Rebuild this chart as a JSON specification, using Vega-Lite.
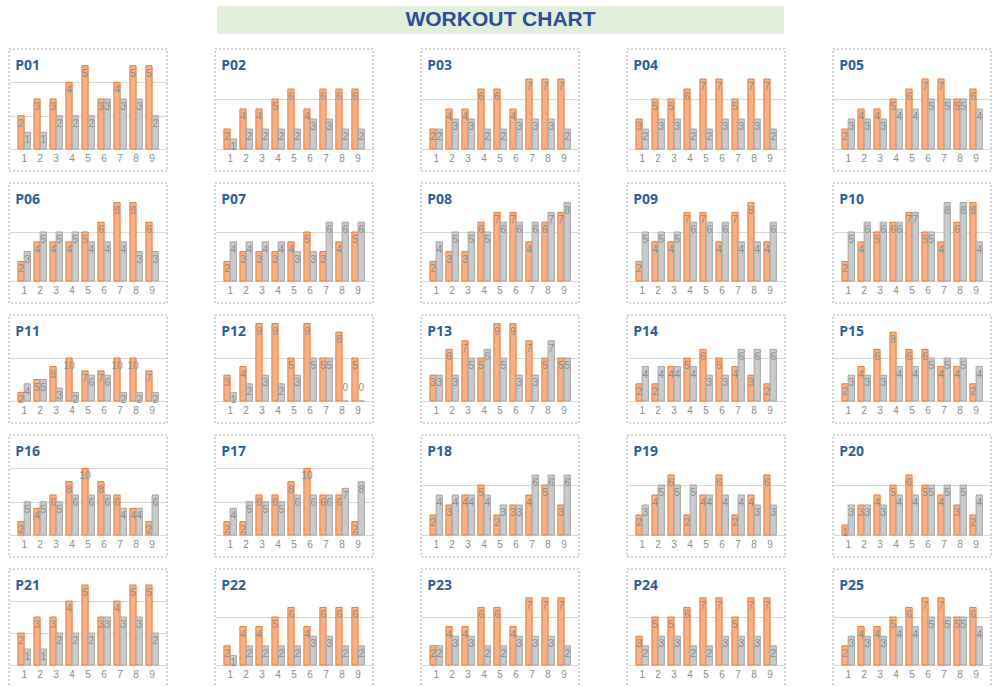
{
"$schema":"https://vega.github.io/schema/vega-lite/v6.json",
"padding":{"left":8,"top":6,"right":0,"bottom":0},
"background":"white",
"datasets":{"bars":[
{"p":"P01","d":1,"s":"a","v":2},{"p":"P01","d":2,"s":"a","v":3},{"p":"P01","d":3,"s":"a","v":3},{"p":"P01","d":4,"s":"a","v":4},{"p":"P01","d":5,"s":"a","v":5},{"p":"P01","d":6,"s":"a","v":3},{"p":"P01","d":7,"s":"a","v":4},{"p":"P01","d":8,"s":"a","v":5},{"p":"P01","d":9,"s":"a","v":5},
{"p":"P01","d":1,"s":"b","v":1},{"p":"P01","d":2,"s":"b","v":1},{"p":"P01","d":3,"s":"b","v":2},{"p":"P01","d":4,"s":"b","v":2},{"p":"P01","d":5,"s":"b","v":2},{"p":"P01","d":6,"s":"b","v":3},{"p":"P01","d":7,"s":"b","v":3},{"p":"P01","d":8,"s":"b","v":3},{"p":"P01","d":9,"s":"b","v":2},
{"p":"P02","d":1,"s":"a","v":2},{"p":"P02","d":2,"s":"a","v":4},{"p":"P02","d":3,"s":"a","v":4},{"p":"P02","d":4,"s":"a","v":5},{"p":"P02","d":5,"s":"a","v":6},{"p":"P02","d":6,"s":"a","v":4},{"p":"P02","d":7,"s":"a","v":6},{"p":"P02","d":8,"s":"a","v":6},{"p":"P02","d":9,"s":"a","v":6},
{"p":"P02","d":1,"s":"b","v":1},{"p":"P02","d":2,"s":"b","v":2},{"p":"P02","d":3,"s":"b","v":2},{"p":"P02","d":4,"s":"b","v":2},{"p":"P02","d":5,"s":"b","v":2},{"p":"P02","d":6,"s":"b","v":3},{"p":"P02","d":7,"s":"b","v":3},{"p":"P02","d":8,"s":"b","v":2},{"p":"P02","d":9,"s":"b","v":2},
{"p":"P03","d":1,"s":"a","v":2},{"p":"P03","d":2,"s":"a","v":4},{"p":"P03","d":3,"s":"a","v":4},{"p":"P03","d":4,"s":"a","v":6},{"p":"P03","d":5,"s":"a","v":6},{"p":"P03","d":6,"s":"a","v":4},{"p":"P03","d":7,"s":"a","v":7},{"p":"P03","d":8,"s":"a","v":7},{"p":"P03","d":9,"s":"a","v":7},
{"p":"P03","d":1,"s":"b","v":2},{"p":"P03","d":2,"s":"b","v":3},{"p":"P03","d":3,"s":"b","v":3},{"p":"P03","d":4,"s":"b","v":2},{"p":"P03","d":5,"s":"b","v":2},{"p":"P03","d":6,"s":"b","v":3},{"p":"P03","d":7,"s":"b","v":3},{"p":"P03","d":8,"s":"b","v":3},{"p":"P03","d":9,"s":"b","v":2},
{"p":"P04","d":1,"s":"a","v":3},{"p":"P04","d":2,"s":"a","v":5},{"p":"P04","d":3,"s":"a","v":5},{"p":"P04","d":4,"s":"a","v":6},{"p":"P04","d":5,"s":"a","v":7},{"p":"P04","d":6,"s":"a","v":7},{"p":"P04","d":7,"s":"a","v":5},{"p":"P04","d":8,"s":"a","v":7},{"p":"P04","d":9,"s":"a","v":7},
{"p":"P04","d":1,"s":"b","v":2},{"p":"P04","d":2,"s":"b","v":3},{"p":"P04","d":3,"s":"b","v":3},{"p":"P04","d":4,"s":"b","v":2},{"p":"P04","d":5,"s":"b","v":2},{"p":"P04","d":6,"s":"b","v":3},{"p":"P04","d":7,"s":"b","v":3},{"p":"P04","d":8,"s":"b","v":3},{"p":"P04","d":9,"s":"b","v":2},
{"p":"P05","d":1,"s":"a","v":2},{"p":"P05","d":2,"s":"a","v":4},{"p":"P05","d":3,"s":"a","v":4},{"p":"P05","d":4,"s":"a","v":5},{"p":"P05","d":5,"s":"a","v":6},{"p":"P05","d":6,"s":"a","v":7},{"p":"P05","d":7,"s":"a","v":7},{"p":"P05","d":8,"s":"a","v":5},{"p":"P05","d":9,"s":"a","v":6},
{"p":"P05","d":1,"s":"b","v":3},{"p":"P05","d":2,"s":"b","v":3},{"p":"P05","d":3,"s":"b","v":3},{"p":"P05","d":4,"s":"b","v":4},{"p":"P05","d":5,"s":"b","v":4},{"p":"P05","d":6,"s":"b","v":5},{"p":"P05","d":7,"s":"b","v":5},{"p":"P05","d":8,"s":"b","v":5},{"p":"P05","d":9,"s":"b","v":4},
{"p":"P06","d":1,"s":"a","v":2},{"p":"P06","d":2,"s":"a","v":4},{"p":"P06","d":3,"s":"a","v":4},{"p":"P06","d":4,"s":"a","v":4},{"p":"P06","d":5,"s":"a","v":5},{"p":"P06","d":6,"s":"a","v":6},{"p":"P06","d":7,"s":"a","v":8},{"p":"P06","d":8,"s":"a","v":8},{"p":"P06","d":9,"s":"a","v":6},
{"p":"P06","d":1,"s":"b","v":3},{"p":"P06","d":2,"s":"b","v":5},{"p":"P06","d":3,"s":"b","v":5},{"p":"P06","d":4,"s":"b","v":5},{"p":"P06","d":5,"s":"b","v":4},{"p":"P06","d":6,"s":"b","v":4},{"p":"P06","d":7,"s":"b","v":4},{"p":"P06","d":8,"s":"b","v":3},{"p":"P06","d":9,"s":"b","v":3},
{"p":"P07","d":1,"s":"a","v":2},{"p":"P07","d":2,"s":"a","v":3},{"p":"P07","d":3,"s":"a","v":3},{"p":"P07","d":4,"s":"a","v":3},{"p":"P07","d":5,"s":"a","v":4},{"p":"P07","d":6,"s":"a","v":5},{"p":"P07","d":7,"s":"a","v":3},{"p":"P07","d":8,"s":"a","v":4},{"p":"P07","d":9,"s":"a","v":5},
{"p":"P07","d":1,"s":"b","v":4},{"p":"P07","d":2,"s":"b","v":4},{"p":"P07","d":3,"s":"b","v":4},{"p":"P07","d":4,"s":"b","v":4},{"p":"P07","d":5,"s":"b","v":3},{"p":"P07","d":6,"s":"b","v":3},{"p":"P07","d":7,"s":"b","v":6},{"p":"P07","d":8,"s":"b","v":6},{"p":"P07","d":9,"s":"b","v":6},
{"p":"P08","d":1,"s":"a","v":2},{"p":"P08","d":2,"s":"a","v":3},{"p":"P08","d":3,"s":"a","v":3},{"p":"P08","d":4,"s":"a","v":6},{"p":"P08","d":5,"s":"a","v":7},{"p":"P08","d":6,"s":"a","v":7},{"p":"P08","d":7,"s":"a","v":4},{"p":"P08","d":8,"s":"a","v":6},{"p":"P08","d":9,"s":"a","v":7},
{"p":"P08","d":1,"s":"b","v":4},{"p":"P08","d":2,"s":"b","v":5},{"p":"P08","d":3,"s":"b","v":5},{"p":"P08","d":4,"s":"b","v":5},{"p":"P08","d":5,"s":"b","v":6},{"p":"P08","d":6,"s":"b","v":6},{"p":"P08","d":7,"s":"b","v":6},{"p":"P08","d":8,"s":"b","v":7},{"p":"P08","d":9,"s":"b","v":8},
{"p":"P09","d":1,"s":"a","v":2},{"p":"P09","d":2,"s":"a","v":4},{"p":"P09","d":3,"s":"a","v":4},{"p":"P09","d":4,"s":"a","v":7},{"p":"P09","d":5,"s":"a","v":7},{"p":"P09","d":6,"s":"a","v":4},{"p":"P09","d":7,"s":"a","v":7},{"p":"P09","d":8,"s":"a","v":8},{"p":"P09","d":9,"s":"a","v":4},
{"p":"P09","d":1,"s":"b","v":5},{"p":"P09","d":2,"s":"b","v":5},{"p":"P09","d":3,"s":"b","v":5},{"p":"P09","d":4,"s":"b","v":6},{"p":"P09","d":5,"s":"b","v":6},{"p":"P09","d":6,"s":"b","v":6},{"p":"P09","d":7,"s":"b","v":4},{"p":"P09","d":8,"s":"b","v":4},{"p":"P09","d":9,"s":"b","v":6},
{"p":"P10","d":1,"s":"a","v":2},{"p":"P10","d":2,"s":"a","v":4},{"p":"P10","d":3,"s":"a","v":5},{"p":"P10","d":4,"s":"a","v":6},{"p":"P10","d":5,"s":"a","v":7},{"p":"P10","d":6,"s":"a","v":5},{"p":"P10","d":7,"s":"a","v":4},{"p":"P10","d":8,"s":"a","v":6},{"p":"P10","d":9,"s":"a","v":8},
{"p":"P10","d":1,"s":"b","v":5},{"p":"P10","d":2,"s":"b","v":6},{"p":"P10","d":3,"s":"b","v":6},{"p":"P10","d":4,"s":"b","v":6},{"p":"P10","d":5,"s":"b","v":7},{"p":"P10","d":6,"s":"b","v":5},{"p":"P10","d":7,"s":"b","v":8},{"p":"P10","d":8,"s":"b","v":8},{"p":"P10","d":9,"s":"b","v":4},
{"p":"P11","d":1,"s":"a","v":2},{"p":"P11","d":2,"s":"a","v":5},{"p":"P11","d":3,"s":"a","v":8},{"p":"P11","d":4,"s":"a","v":10},{"p":"P11","d":5,"s":"a","v":7},{"p":"P11","d":6,"s":"a","v":7},{"p":"P11","d":7,"s":"a","v":10},{"p":"P11","d":8,"s":"a","v":10},{"p":"P11","d":9,"s":"a","v":7},
{"p":"P11","d":1,"s":"b","v":4},{"p":"P11","d":2,"s":"b","v":5},{"p":"P11","d":3,"s":"b","v":3},{"p":"P11","d":4,"s":"b","v":2},{"p":"P11","d":5,"s":"b","v":6},{"p":"P11","d":6,"s":"b","v":6},{"p":"P11","d":7,"s":"b","v":2},{"p":"P11","d":8,"s":"b","v":2},{"p":"P11","d":9,"s":"b","v":2},
{"p":"P12","d":1,"s":"a","v":3},{"p":"P12","d":2,"s":"a","v":4},{"p":"P12","d":3,"s":"a","v":9},{"p":"P12","d":4,"s":"a","v":9},{"p":"P12","d":5,"s":"a","v":5},{"p":"P12","d":6,"s":"a","v":9},{"p":"P12","d":7,"s":"a","v":5},{"p":"P12","d":8,"s":"a","v":8},{"p":"P12","d":9,"s":"a","v":5},
{"p":"P12","d":1,"s":"b","v":1},{"p":"P12","d":2,"s":"b","v":2},{"p":"P12","d":3,"s":"b","v":3},{"p":"P12","d":4,"s":"b","v":2},{"p":"P12","d":5,"s":"b","v":3},{"p":"P12","d":6,"s":"b","v":5},{"p":"P12","d":7,"s":"b","v":5},{"p":"P12","d":8,"s":"b","v":0},{"p":"P12","d":9,"s":"b","v":0},
{"p":"P13","d":1,"s":"a","v":3},{"p":"P13","d":2,"s":"a","v":6},{"p":"P13","d":3,"s":"a","v":7},{"p":"P13","d":4,"s":"a","v":5},{"p":"P13","d":5,"s":"a","v":9},{"p":"P13","d":6,"s":"a","v":9},{"p":"P13","d":7,"s":"a","v":7},{"p":"P13","d":8,"s":"a","v":5},{"p":"P13","d":9,"s":"a","v":5},
{"p":"P13","d":1,"s":"b","v":3},{"p":"P13","d":2,"s":"b","v":3},{"p":"P13","d":3,"s":"b","v":5},{"p":"P13","d":4,"s":"b","v":6},{"p":"P13","d":5,"s":"b","v":5},{"p":"P13","d":6,"s":"b","v":3},{"p":"P13","d":7,"s":"b","v":3},{"p":"P13","d":8,"s":"b","v":7},{"p":"P13","d":9,"s":"b","v":5},
{"p":"P14","d":1,"s":"a","v":2},{"p":"P14","d":2,"s":"a","v":2},{"p":"P14","d":3,"s":"a","v":4},{"p":"P14","d":4,"s":"a","v":5},{"p":"P14","d":5,"s":"a","v":6},{"p":"P14","d":6,"s":"a","v":5},{"p":"P14","d":7,"s":"a","v":4},{"p":"P14","d":8,"s":"a","v":3},{"p":"P14","d":9,"s":"a","v":2},
{"p":"P14","d":1,"s":"b","v":4},{"p":"P14","d":2,"s":"b","v":4},{"p":"P14","d":3,"s":"b","v":4},{"p":"P14","d":4,"s":"b","v":4},{"p":"P14","d":5,"s":"b","v":3},{"p":"P14","d":6,"s":"b","v":3},{"p":"P14","d":7,"s":"b","v":6},{"p":"P14","d":8,"s":"b","v":6},{"p":"P14","d":9,"s":"b","v":6},
{"p":"P15","d":1,"s":"a","v":2},{"p":"P15","d":2,"s":"a","v":4},{"p":"P15","d":3,"s":"a","v":6},{"p":"P15","d":4,"s":"a","v":8},{"p":"P15","d":5,"s":"a","v":6},{"p":"P15","d":6,"s":"a","v":6},{"p":"P15","d":7,"s":"a","v":4},{"p":"P15","d":8,"s":"a","v":4},{"p":"P15","d":9,"s":"a","v":2},
{"p":"P15","d":1,"s":"b","v":3},{"p":"P15","d":2,"s":"b","v":3},{"p":"P15","d":3,"s":"b","v":3},{"p":"P15","d":4,"s":"b","v":4},{"p":"P15","d":5,"s":"b","v":4},{"p":"P15","d":6,"s":"b","v":5},{"p":"P15","d":7,"s":"b","v":5},{"p":"P15","d":8,"s":"b","v":5},{"p":"P15","d":9,"s":"b","v":4},
{"p":"P16","d":1,"s":"a","v":2},{"p":"P16","d":2,"s":"a","v":4},{"p":"P16","d":3,"s":"a","v":6},{"p":"P16","d":4,"s":"a","v":8},{"p":"P16","d":5,"s":"a","v":10},{"p":"P16","d":6,"s":"a","v":8},{"p":"P16","d":7,"s":"a","v":6},{"p":"P16","d":8,"s":"a","v":4},{"p":"P16","d":9,"s":"a","v":2},
{"p":"P16","d":1,"s":"b","v":5},{"p":"P16","d":2,"s":"b","v":5},{"p":"P16","d":3,"s":"b","v":5},{"p":"P16","d":4,"s":"b","v":6},{"p":"P16","d":5,"s":"b","v":6},{"p":"P16","d":6,"s":"b","v":6},{"p":"P16","d":7,"s":"b","v":4},{"p":"P16","d":8,"s":"b","v":4},{"p":"P16","d":9,"s":"b","v":6},
{"p":"P17","d":1,"s":"a","v":2},{"p":"P17","d":2,"s":"a","v":2},{"p":"P17","d":3,"s":"a","v":6},{"p":"P17","d":4,"s":"a","v":6},{"p":"P17","d":5,"s":"a","v":8},{"p":"P17","d":6,"s":"a","v":10},{"p":"P17","d":7,"s":"a","v":6},{"p":"P17","d":8,"s":"a","v":6},{"p":"P17","d":9,"s":"a","v":2},
{"p":"P17","d":1,"s":"b","v":4},{"p":"P17","d":2,"s":"b","v":5},{"p":"P17","d":3,"s":"b","v":5},{"p":"P17","d":4,"s":"b","v":5},{"p":"P17","d":5,"s":"b","v":6},{"p":"P17","d":6,"s":"b","v":6},{"p":"P17","d":7,"s":"b","v":6},{"p":"P17","d":8,"s":"b","v":7},{"p":"P17","d":9,"s":"b","v":8},
{"p":"P18","d":1,"s":"a","v":2},{"p":"P18","d":2,"s":"a","v":3},{"p":"P18","d":3,"s":"a","v":4},{"p":"P18","d":4,"s":"a","v":5},{"p":"P18","d":5,"s":"a","v":2},{"p":"P18","d":6,"s":"a","v":3},{"p":"P18","d":7,"s":"a","v":4},{"p":"P18","d":8,"s":"a","v":5},{"p":"P18","d":9,"s":"a","v":3},
{"p":"P18","d":1,"s":"b","v":4},{"p":"P18","d":2,"s":"b","v":4},{"p":"P18","d":3,"s":"b","v":4},{"p":"P18","d":4,"s":"b","v":4},{"p":"P18","d":5,"s":"b","v":3},{"p":"P18","d":6,"s":"b","v":3},{"p":"P18","d":7,"s":"b","v":6},{"p":"P18","d":8,"s":"b","v":6},{"p":"P18","d":9,"s":"b","v":6},
{"p":"P19","d":1,"s":"a","v":2},{"p":"P19","d":2,"s":"a","v":4},{"p":"P19","d":3,"s":"a","v":6},{"p":"P19","d":4,"s":"a","v":2},{"p":"P19","d":5,"s":"a","v":4},{"p":"P19","d":6,"s":"a","v":6},{"p":"P19","d":7,"s":"a","v":2},{"p":"P19","d":8,"s":"a","v":4},{"p":"P19","d":9,"s":"a","v":6},
{"p":"P19","d":1,"s":"b","v":3},{"p":"P19","d":2,"s":"b","v":5},{"p":"P19","d":3,"s":"b","v":5},{"p":"P19","d":4,"s":"b","v":5},{"p":"P19","d":5,"s":"b","v":4},{"p":"P19","d":6,"s":"b","v":4},{"p":"P19","d":7,"s":"b","v":4},{"p":"P19","d":8,"s":"b","v":3},{"p":"P19","d":9,"s":"b","v":3},
{"p":"P20","d":1,"s":"a","v":1},{"p":"P20","d":2,"s":"a","v":3},{"p":"P20","d":3,"s":"a","v":4},{"p":"P20","d":4,"s":"a","v":5},{"p":"P20","d":5,"s":"a","v":6},{"p":"P20","d":6,"s":"a","v":5},{"p":"P20","d":7,"s":"a","v":4},{"p":"P20","d":8,"s":"a","v":3},{"p":"P20","d":9,"s":"a","v":2},
{"p":"P20","d":1,"s":"b","v":3},{"p":"P20","d":2,"s":"b","v":3},{"p":"P20","d":3,"s":"b","v":3},{"p":"P20","d":4,"s":"b","v":4},{"p":"P20","d":5,"s":"b","v":4},{"p":"P20","d":6,"s":"b","v":5},{"p":"P20","d":7,"s":"b","v":5},{"p":"P20","d":8,"s":"b","v":5},{"p":"P20","d":9,"s":"b","v":4},
{"p":"P21","d":1,"s":"a","v":2},{"p":"P21","d":2,"s":"a","v":3},{"p":"P21","d":3,"s":"a","v":3},{"p":"P21","d":4,"s":"a","v":4},{"p":"P21","d":5,"s":"a","v":5},{"p":"P21","d":6,"s":"a","v":3},{"p":"P21","d":7,"s":"a","v":4},{"p":"P21","d":8,"s":"a","v":5},{"p":"P21","d":9,"s":"a","v":5},
{"p":"P21","d":1,"s":"b","v":1},{"p":"P21","d":2,"s":"b","v":1},{"p":"P21","d":3,"s":"b","v":2},{"p":"P21","d":4,"s":"b","v":2},{"p":"P21","d":5,"s":"b","v":2},{"p":"P21","d":6,"s":"b","v":3},{"p":"P21","d":7,"s":"b","v":3},{"p":"P21","d":8,"s":"b","v":3},{"p":"P21","d":9,"s":"b","v":2},
{"p":"P22","d":1,"s":"a","v":2},{"p":"P22","d":2,"s":"a","v":4},{"p":"P22","d":3,"s":"a","v":4},{"p":"P22","d":4,"s":"a","v":5},{"p":"P22","d":5,"s":"a","v":6},{"p":"P22","d":6,"s":"a","v":4},{"p":"P22","d":7,"s":"a","v":6},{"p":"P22","d":8,"s":"a","v":6},{"p":"P22","d":9,"s":"a","v":6},
{"p":"P22","d":1,"s":"b","v":1},{"p":"P22","d":2,"s":"b","v":2},{"p":"P22","d":3,"s":"b","v":2},{"p":"P22","d":4,"s":"b","v":2},{"p":"P22","d":5,"s":"b","v":2},{"p":"P22","d":6,"s":"b","v":3},{"p":"P22","d":7,"s":"b","v":3},{"p":"P22","d":8,"s":"b","v":2},{"p":"P22","d":9,"s":"b","v":2},
{"p":"P23","d":1,"s":"a","v":2},{"p":"P23","d":2,"s":"a","v":4},{"p":"P23","d":3,"s":"a","v":4},{"p":"P23","d":4,"s":"a","v":6},{"p":"P23","d":5,"s":"a","v":6},{"p":"P23","d":6,"s":"a","v":4},{"p":"P23","d":7,"s":"a","v":7},{"p":"P23","d":8,"s":"a","v":7},{"p":"P23","d":9,"s":"a","v":7},
{"p":"P23","d":1,"s":"b","v":2},{"p":"P23","d":2,"s":"b","v":3},{"p":"P23","d":3,"s":"b","v":3},{"p":"P23","d":4,"s":"b","v":2},{"p":"P23","d":5,"s":"b","v":2},{"p":"P23","d":6,"s":"b","v":3},{"p":"P23","d":7,"s":"b","v":3},{"p":"P23","d":8,"s":"b","v":3},{"p":"P23","d":9,"s":"b","v":2},
{"p":"P24","d":1,"s":"a","v":3},{"p":"P24","d":2,"s":"a","v":5},{"p":"P24","d":3,"s":"a","v":5},{"p":"P24","d":4,"s":"a","v":6},{"p":"P24","d":5,"s":"a","v":7},{"p":"P24","d":6,"s":"a","v":7},{"p":"P24","d":7,"s":"a","v":5},{"p":"P24","d":8,"s":"a","v":7},{"p":"P24","d":9,"s":"a","v":7},
{"p":"P24","d":1,"s":"b","v":2},{"p":"P24","d":2,"s":"b","v":3},{"p":"P24","d":3,"s":"b","v":3},{"p":"P24","d":4,"s":"b","v":2},{"p":"P24","d":5,"s":"b","v":2},{"p":"P24","d":6,"s":"b","v":3},{"p":"P24","d":7,"s":"b","v":3},{"p":"P24","d":8,"s":"b","v":3},{"p":"P24","d":9,"s":"b","v":2},
{"p":"P25","d":1,"s":"a","v":2},{"p":"P25","d":2,"s":"a","v":4},{"p":"P25","d":3,"s":"a","v":4},{"p":"P25","d":4,"s":"a","v":5},{"p":"P25","d":5,"s":"a","v":6},{"p":"P25","d":6,"s":"a","v":7},{"p":"P25","d":7,"s":"a","v":7},{"p":"P25","d":8,"s":"a","v":5},{"p":"P25","d":9,"s":"a","v":6},
{"p":"P25","d":1,"s":"b","v":3},{"p":"P25","d":2,"s":"b","v":3},{"p":"P25","d":3,"s":"b","v":3},{"p":"P25","d":4,"s":"b","v":4},{"p":"P25","d":5,"s":"b","v":4},{"p":"P25","d":6,"s":"b","v":5},{"p":"P25","d":7,"s":"b","v":5},{"p":"P25","d":8,"s":"b","v":5},{"p":"P25","d":9,"s":"b","v":4}
]},
"data":{"name":"bars"},
"center":true,
"spacing":14,
"vconcat":[
{"width":567,"height":28,"view":{"fill":"#E2EFDA","stroke":null},"data":{"values":[{"t":"WORKOUT CHART"}]},"mark":{"type":"text","font":"Liberation Sans","fontSize":21,"fontWeight":"bold","fill":"#2E4E9B","align":"center","baseline":"middle"},"encoding":{"text":{"field":"t"}}},
{"spacing":10,"vconcat":[
{"spacing":46,"hconcat":[
{"width":158,"height":122,"title":"P01","transform":[{"filter":"datum.p==='P01'"}],"encoding":{"x":{"field":"d","type":"ordinal","title":null},"xOffset":{"field":"s","type":"nominal","scale":{"paddingInner":0}},"y":{"field":"v","type":"quantitative","title":null,"scale":{"domain":[-1.32,6],"nice":false,"zero":false},"axis":{"values":[0,2,4]}}},"layer":[{"mark":"bar","encoding":{"color":{"field":"s","type":"nominal","scale":{"domain":["a","b"],"range":["#F8AF85","#CACACA"]},"legend":null},"stroke":{"field":"s","type":"nominal","scale":{"domain":["a","b"],"range":["#ED7D31","#A6A6A6"]},"legend":null}}},{"mark":{"type":"text","baseline":"top","dy":3},"encoding":{"text":{"field":"v"}}}]},
{"width":158,"height":122,"title":"P02","transform":[{"filter":"datum.p==='P02'"}],"encoding":{"x":{"field":"d","type":"ordinal","title":null},"xOffset":{"field":"s","type":"nominal","scale":{"paddingInner":0}},"y":{"field":"v","type":"quantitative","title":null,"scale":{"domain":[-2.2,10],"nice":false,"zero":false},"axis":{"values":[0,5]}}},"layer":[{"mark":"bar","encoding":{"color":{"field":"s","type":"nominal","scale":{"domain":["a","b"],"range":["#F8AF85","#CACACA"]},"legend":null},"stroke":{"field":"s","type":"nominal","scale":{"domain":["a","b"],"range":["#ED7D31","#A6A6A6"]},"legend":null}}},{"mark":{"type":"text","baseline":"top","dy":3},"encoding":{"text":{"field":"v"}}}]},
{"width":158,"height":122,"title":"P03","transform":[{"filter":"datum.p==='P03'"}],"encoding":{"x":{"field":"d","type":"ordinal","title":null},"xOffset":{"field":"s","type":"nominal","scale":{"paddingInner":0}},"y":{"field":"v","type":"quantitative","title":null,"scale":{"domain":[-2.2,10],"nice":false,"zero":false},"axis":{"values":[0,5]}}},"layer":[{"mark":"bar","encoding":{"color":{"field":"s","type":"nominal","scale":{"domain":["a","b"],"range":["#F8AF85","#CACACA"]},"legend":null},"stroke":{"field":"s","type":"nominal","scale":{"domain":["a","b"],"range":["#ED7D31","#A6A6A6"]},"legend":null}}},{"mark":{"type":"text","baseline":"top","dy":3},"encoding":{"text":{"field":"v"}}}]},
{"width":158,"height":122,"title":"P04","transform":[{"filter":"datum.p==='P04'"}],"encoding":{"x":{"field":"d","type":"ordinal","title":null},"xOffset":{"field":"s","type":"nominal","scale":{"paddingInner":0}},"y":{"field":"v","type":"quantitative","title":null,"scale":{"domain":[-2.2,10],"nice":false,"zero":false},"axis":{"values":[0,5]}}},"layer":[{"mark":"bar","encoding":{"color":{"field":"s","type":"nominal","scale":{"domain":["a","b"],"range":["#F8AF85","#CACACA"]},"legend":null},"stroke":{"field":"s","type":"nominal","scale":{"domain":["a","b"],"range":["#ED7D31","#A6A6A6"]},"legend":null}}},{"mark":{"type":"text","baseline":"top","dy":3},"encoding":{"text":{"field":"v"}}}]},
{"width":158,"height":122,"title":"P05","transform":[{"filter":"datum.p==='P05'"}],"encoding":{"x":{"field":"d","type":"ordinal","title":null},"xOffset":{"field":"s","type":"nominal","scale":{"paddingInner":0}},"y":{"field":"v","type":"quantitative","title":null,"scale":{"domain":[-2.2,10],"nice":false,"zero":false},"axis":{"values":[0,5]}}},"layer":[{"mark":"bar","encoding":{"color":{"field":"s","type":"nominal","scale":{"domain":["a","b"],"range":["#F8AF85","#CACACA"]},"legend":null},"stroke":{"field":"s","type":"nominal","scale":{"domain":["a","b"],"range":["#ED7D31","#A6A6A6"]},"legend":null}}},{"mark":{"type":"text","baseline":"top","dy":3},"encoding":{"text":{"field":"v"}}}]}
]},
{"spacing":46,"hconcat":[
{"width":158,"height":120,"title":"P06","transform":[{"filter":"datum.p==='P06'"}],"encoding":{"x":{"field":"d","type":"ordinal","title":null},"xOffset":{"field":"s","type":"nominal","scale":{"paddingInner":0}},"y":{"field":"v","type":"quantitative","title":null,"scale":{"domain":[-2.245,10],"nice":false,"zero":false},"axis":{"values":[0,5]}}},"layer":[{"mark":"bar","encoding":{"color":{"field":"s","type":"nominal","scale":{"domain":["a","b"],"range":["#F8AF85","#CACACA"]},"legend":null},"stroke":{"field":"s","type":"nominal","scale":{"domain":["a","b"],"range":["#ED7D31","#A6A6A6"]},"legend":null}}},{"mark":{"type":"text","baseline":"top","dy":3},"encoding":{"text":{"field":"v"}}}]},
{"width":158,"height":120,"title":"P07","transform":[{"filter":"datum.p==='P07'"}],"encoding":{"x":{"field":"d","type":"ordinal","title":null},"xOffset":{"field":"s","type":"nominal","scale":{"paddingInner":0}},"y":{"field":"v","type":"quantitative","title":null,"scale":{"domain":[-2.245,10],"nice":false,"zero":false},"axis":{"values":[0,5]}}},"layer":[{"mark":"bar","encoding":{"color":{"field":"s","type":"nominal","scale":{"domain":["a","b"],"range":["#F8AF85","#CACACA"]},"legend":null},"stroke":{"field":"s","type":"nominal","scale":{"domain":["a","b"],"range":["#ED7D31","#A6A6A6"]},"legend":null}}},{"mark":{"type":"text","baseline":"top","dy":3},"encoding":{"text":{"field":"v"}}}]},
{"width":158,"height":120,"title":"P08","transform":[{"filter":"datum.p==='P08'"}],"encoding":{"x":{"field":"d","type":"ordinal","title":null},"xOffset":{"field":"s","type":"nominal","scale":{"paddingInner":0}},"y":{"field":"v","type":"quantitative","title":null,"scale":{"domain":[-2.245,10],"nice":false,"zero":false},"axis":{"values":[0,5]}}},"layer":[{"mark":"bar","encoding":{"color":{"field":"s","type":"nominal","scale":{"domain":["a","b"],"range":["#F8AF85","#CACACA"]},"legend":null},"stroke":{"field":"s","type":"nominal","scale":{"domain":["a","b"],"range":["#ED7D31","#A6A6A6"]},"legend":null}}},{"mark":{"type":"text","baseline":"top","dy":3},"encoding":{"text":{"field":"v"}}}]},
{"width":158,"height":120,"title":"P09","transform":[{"filter":"datum.p==='P09'"}],"encoding":{"x":{"field":"d","type":"ordinal","title":null},"xOffset":{"field":"s","type":"nominal","scale":{"paddingInner":0}},"y":{"field":"v","type":"quantitative","title":null,"scale":{"domain":[-2.245,10],"nice":false,"zero":false},"axis":{"values":[0,5]}}},"layer":[{"mark":"bar","encoding":{"color":{"field":"s","type":"nominal","scale":{"domain":["a","b"],"range":["#F8AF85","#CACACA"]},"legend":null},"stroke":{"field":"s","type":"nominal","scale":{"domain":["a","b"],"range":["#ED7D31","#A6A6A6"]},"legend":null}}},{"mark":{"type":"text","baseline":"top","dy":3},"encoding":{"text":{"field":"v"}}}]},
{"width":158,"height":120,"title":"P10","transform":[{"filter":"datum.p==='P10'"}],"encoding":{"x":{"field":"d","type":"ordinal","title":null},"xOffset":{"field":"s","type":"nominal","scale":{"paddingInner":0}},"y":{"field":"v","type":"quantitative","title":null,"scale":{"domain":[-2.245,10],"nice":false,"zero":false},"axis":{"values":[0,5]}}},"layer":[{"mark":"bar","encoding":{"color":{"field":"s","type":"nominal","scale":{"domain":["a","b"],"range":["#F8AF85","#CACACA"]},"legend":null},"stroke":{"field":"s","type":"nominal","scale":{"domain":["a","b"],"range":["#ED7D31","#A6A6A6"]},"legend":null}}},{"mark":{"type":"text","baseline":"top","dy":3},"encoding":{"text":{"field":"v"}}}]}
]},
{"spacing":46,"hconcat":[
{"width":158,"height":108,"title":"P11","transform":[{"filter":"datum.p==='P11'"}],"encoding":{"x":{"field":"d","type":"ordinal","title":null},"xOffset":{"field":"s","type":"nominal","scale":{"paddingInner":0}},"y":{"field":"v","type":"quantitative","title":null,"scale":{"domain":[-5.116,20],"nice":false,"zero":false},"axis":{"values":[0,10]}}},"layer":[{"mark":"bar","encoding":{"color":{"field":"s","type":"nominal","scale":{"domain":["a","b"],"range":["#F8AF85","#CACACA"]},"legend":null},"stroke":{"field":"s","type":"nominal","scale":{"domain":["a","b"],"range":["#ED7D31","#A6A6A6"]},"legend":null}}},{"mark":{"type":"text","baseline":"top","dy":3},"encoding":{"text":{"field":"v"}}}]},
{"width":158,"height":108,"title":"P12","transform":[{"filter":"datum.p==='P12'"}],"encoding":{"x":{"field":"d","type":"ordinal","title":null},"xOffset":{"field":"s","type":"nominal","scale":{"paddingInner":0}},"y":{"field":"v","type":"quantitative","title":null,"scale":{"domain":[-2.558,10],"nice":false,"zero":false},"axis":{"values":[0,5]}}},"layer":[{"mark":"bar","encoding":{"color":{"field":"s","type":"nominal","scale":{"domain":["a","b"],"range":["#F8AF85","#CACACA"]},"legend":null},"stroke":{"field":"s","type":"nominal","scale":{"domain":["a","b"],"range":["#ED7D31","#A6A6A6"]},"legend":null}}},{"transform":[{"filter":"datum.v>0"}],"mark":{"type":"text","baseline":"top","dy":3},"encoding":{"text":{"field":"v"}}},{"transform":[{"filter":"datum.v==0"}],"mark":{"type":"text","baseline":"bottom","dy":-8},"encoding":{"text":{"field":"v"}}}]},
{"width":158,"height":108,"title":"P13","transform":[{"filter":"datum.p==='P13'"}],"encoding":{"x":{"field":"d","type":"ordinal","title":null},"xOffset":{"field":"s","type":"nominal","scale":{"paddingInner":0}},"y":{"field":"v","type":"quantitative","title":null,"scale":{"domain":[-2.558,10],"nice":false,"zero":false},"axis":{"values":[0,5]}}},"layer":[{"mark":"bar","encoding":{"color":{"field":"s","type":"nominal","scale":{"domain":["a","b"],"range":["#F8AF85","#CACACA"]},"legend":null},"stroke":{"field":"s","type":"nominal","scale":{"domain":["a","b"],"range":["#ED7D31","#A6A6A6"]},"legend":null}}},{"mark":{"type":"text","baseline":"top","dy":3},"encoding":{"text":{"field":"v"}}}]},
{"width":158,"height":108,"title":"P14","transform":[{"filter":"datum.p==='P14'"}],"encoding":{"x":{"field":"d","type":"ordinal","title":null},"xOffset":{"field":"s","type":"nominal","scale":{"paddingInner":0}},"y":{"field":"v","type":"quantitative","title":null,"scale":{"domain":[-2.558,10],"nice":false,"zero":false},"axis":{"values":[0,5]}}},"layer":[{"mark":"bar","encoding":{"color":{"field":"s","type":"nominal","scale":{"domain":["a","b"],"range":["#F8AF85","#CACACA"]},"legend":null},"stroke":{"field":"s","type":"nominal","scale":{"domain":["a","b"],"range":["#ED7D31","#A6A6A6"]},"legend":null}}},{"mark":{"type":"text","baseline":"top","dy":3},"encoding":{"text":{"field":"v"}}}]},
{"width":158,"height":108,"title":"P15","transform":[{"filter":"datum.p==='P15'"}],"encoding":{"x":{"field":"d","type":"ordinal","title":null},"xOffset":{"field":"s","type":"nominal","scale":{"paddingInner":0}},"y":{"field":"v","type":"quantitative","title":null,"scale":{"domain":[-2.558,10],"nice":false,"zero":false},"axis":{"values":[0,5]}}},"layer":[{"mark":"bar","encoding":{"color":{"field":"s","type":"nominal","scale":{"domain":["a","b"],"range":["#F8AF85","#CACACA"]},"legend":null},"stroke":{"field":"s","type":"nominal","scale":{"domain":["a","b"],"range":["#ED7D31","#A6A6A6"]},"legend":null}}},{"mark":{"type":"text","baseline":"top","dy":3},"encoding":{"text":{"field":"v"}}}]}
]},
{"spacing":46,"hconcat":[
{"width":158,"height":122,"title":"P16","transform":[{"filter":"datum.p==='P16'"}],"encoding":{"x":{"field":"d","type":"ordinal","title":null},"xOffset":{"field":"s","type":"nominal","scale":{"paddingInner":0}},"y":{"field":"v","type":"quantitative","title":null,"scale":{"domain":[-3.3,15],"nice":false,"zero":false},"axis":{"values":[0,5,10]}}},"layer":[{"mark":"bar","encoding":{"color":{"field":"s","type":"nominal","scale":{"domain":["a","b"],"range":["#F8AF85","#CACACA"]},"legend":null},"stroke":{"field":"s","type":"nominal","scale":{"domain":["a","b"],"range":["#ED7D31","#A6A6A6"]},"legend":null}}},{"mark":{"type":"text","baseline":"top","dy":3},"encoding":{"text":{"field":"v"}}}]},
{"width":158,"height":122,"title":"P17","transform":[{"filter":"datum.p==='P17'"}],"encoding":{"x":{"field":"d","type":"ordinal","title":null},"xOffset":{"field":"s","type":"nominal","scale":{"paddingInner":0}},"y":{"field":"v","type":"quantitative","title":null,"scale":{"domain":[-3.3,15],"nice":false,"zero":false},"axis":{"values":[0,5,10]}}},"layer":[{"mark":"bar","encoding":{"color":{"field":"s","type":"nominal","scale":{"domain":["a","b"],"range":["#F8AF85","#CACACA"]},"legend":null},"stroke":{"field":"s","type":"nominal","scale":{"domain":["a","b"],"range":["#ED7D31","#A6A6A6"]},"legend":null}}},{"mark":{"type":"text","baseline":"top","dy":3},"encoding":{"text":{"field":"v"}}}]},
{"width":158,"height":122,"title":"P18","transform":[{"filter":"datum.p==='P18'"}],"encoding":{"x":{"field":"d","type":"ordinal","title":null},"xOffset":{"field":"s","type":"nominal","scale":{"paddingInner":0}},"y":{"field":"v","type":"quantitative","title":null,"scale":{"domain":[-2.2,10],"nice":false,"zero":false},"axis":{"values":[0,5]}}},"layer":[{"mark":"bar","encoding":{"color":{"field":"s","type":"nominal","scale":{"domain":["a","b"],"range":["#F8AF85","#CACACA"]},"legend":null},"stroke":{"field":"s","type":"nominal","scale":{"domain":["a","b"],"range":["#ED7D31","#A6A6A6"]},"legend":null}}},{"mark":{"type":"text","baseline":"top","dy":3},"encoding":{"text":{"field":"v"}}}]},
{"width":158,"height":122,"title":"P19","transform":[{"filter":"datum.p==='P19'"}],"encoding":{"x":{"field":"d","type":"ordinal","title":null},"xOffset":{"field":"s","type":"nominal","scale":{"paddingInner":0}},"y":{"field":"v","type":"quantitative","title":null,"scale":{"domain":[-2.2,10],"nice":false,"zero":false},"axis":{"values":[0,5]}}},"layer":[{"mark":"bar","encoding":{"color":{"field":"s","type":"nominal","scale":{"domain":["a","b"],"range":["#F8AF85","#CACACA"]},"legend":null},"stroke":{"field":"s","type":"nominal","scale":{"domain":["a","b"],"range":["#ED7D31","#A6A6A6"]},"legend":null}}},{"mark":{"type":"text","baseline":"top","dy":3},"encoding":{"text":{"field":"v"}}}]},
{"width":158,"height":122,"title":"P20","transform":[{"filter":"datum.p==='P20'"}],"encoding":{"x":{"field":"d","type":"ordinal","title":null},"xOffset":{"field":"s","type":"nominal","scale":{"paddingInner":0}},"y":{"field":"v","type":"quantitative","title":null,"scale":{"domain":[-2.2,10],"nice":false,"zero":false},"axis":{"values":[0,5]}}},"layer":[{"mark":"bar","encoding":{"color":{"field":"s","type":"nominal","scale":{"domain":["a","b"],"range":["#F8AF85","#CACACA"]},"legend":null},"stroke":{"field":"s","type":"nominal","scale":{"domain":["a","b"],"range":["#ED7D31","#A6A6A6"]},"legend":null}}},{"mark":{"type":"text","baseline":"top","dy":3},"encoding":{"text":{"field":"v"}}}]}
]},
{"spacing":46,"hconcat":[
{"width":158,"height":118,"title":"P21","transform":[{"filter":"datum.p==='P21'"}],"encoding":{"x":{"field":"d","type":"ordinal","title":null},"xOffset":{"field":"s","type":"nominal","scale":{"paddingInner":0}},"y":{"field":"v","type":"quantitative","title":null,"scale":{"domain":[-1.375,6],"nice":false,"zero":false},"axis":{"values":[0,2,4]}}},"layer":[{"mark":"bar","encoding":{"color":{"field":"s","type":"nominal","scale":{"domain":["a","b"],"range":["#F8AF85","#CACACA"]},"legend":null},"stroke":{"field":"s","type":"nominal","scale":{"domain":["a","b"],"range":["#ED7D31","#A6A6A6"]},"legend":null}}},{"mark":{"type":"text","baseline":"top","dy":3},"encoding":{"text":{"field":"v"}}}]},
{"width":158,"height":118,"title":"P22","transform":[{"filter":"datum.p==='P22'"}],"encoding":{"x":{"field":"d","type":"ordinal","title":null},"xOffset":{"field":"s","type":"nominal","scale":{"paddingInner":0}},"y":{"field":"v","type":"quantitative","title":null,"scale":{"domain":[-2.292,10],"nice":false,"zero":false},"axis":{"values":[0,5]}}},"layer":[{"mark":"bar","encoding":{"color":{"field":"s","type":"nominal","scale":{"domain":["a","b"],"range":["#F8AF85","#CACACA"]},"legend":null},"stroke":{"field":"s","type":"nominal","scale":{"domain":["a","b"],"range":["#ED7D31","#A6A6A6"]},"legend":null}}},{"mark":{"type":"text","baseline":"top","dy":3},"encoding":{"text":{"field":"v"}}}]},
{"width":158,"height":118,"title":"P23","transform":[{"filter":"datum.p==='P23'"}],"encoding":{"x":{"field":"d","type":"ordinal","title":null},"xOffset":{"field":"s","type":"nominal","scale":{"paddingInner":0}},"y":{"field":"v","type":"quantitative","title":null,"scale":{"domain":[-2.292,10],"nice":false,"zero":false},"axis":{"values":[0,5]}}},"layer":[{"mark":"bar","encoding":{"color":{"field":"s","type":"nominal","scale":{"domain":["a","b"],"range":["#F8AF85","#CACACA"]},"legend":null},"stroke":{"field":"s","type":"nominal","scale":{"domain":["a","b"],"range":["#ED7D31","#A6A6A6"]},"legend":null}}},{"mark":{"type":"text","baseline":"top","dy":3},"encoding":{"text":{"field":"v"}}}]},
{"width":158,"height":118,"title":"P24","transform":[{"filter":"datum.p==='P24'"}],"encoding":{"x":{"field":"d","type":"ordinal","title":null},"xOffset":{"field":"s","type":"nominal","scale":{"paddingInner":0}},"y":{"field":"v","type":"quantitative","title":null,"scale":{"domain":[-2.292,10],"nice":false,"zero":false},"axis":{"values":[0,5]}}},"layer":[{"mark":"bar","encoding":{"color":{"field":"s","type":"nominal","scale":{"domain":["a","b"],"range":["#F8AF85","#CACACA"]},"legend":null},"stroke":{"field":"s","type":"nominal","scale":{"domain":["a","b"],"range":["#ED7D31","#A6A6A6"]},"legend":null}}},{"mark":{"type":"text","baseline":"top","dy":3},"encoding":{"text":{"field":"v"}}}]},
{"width":158,"height":118,"title":"P25","transform":[{"filter":"datum.p==='P25'"}],"encoding":{"x":{"field":"d","type":"ordinal","title":null},"xOffset":{"field":"s","type":"nominal","scale":{"paddingInner":0}},"y":{"field":"v","type":"quantitative","title":null,"scale":{"domain":[-2.292,10],"nice":false,"zero":false},"axis":{"values":[0,5]}}},"layer":[{"mark":"bar","encoding":{"color":{"field":"s","type":"nominal","scale":{"domain":["a","b"],"range":["#F8AF85","#CACACA"]},"legend":null},"stroke":{"field":"s","type":"nominal","scale":{"domain":["a","b"],"range":["#ED7D31","#A6A6A6"]},"legend":null}}},{"mark":{"type":"text","baseline":"top","dy":3},"encoding":{"text":{"field":"v"}}}]}
]}
]}
],
"config":{
"view":{"stroke":"#C4C4C4","strokeDash":[2,2],"strokeWidth":1.5},
"scale":{"bandPaddingInner":0.22,"bandPaddingOuter":0.55,"bandWithNestedOffsetPaddingInner":0.22,"bandWithNestedOffsetPaddingOuter":0.55},
"bar":{"strokeWidth":1},
"text":{"fontSize":10,"fill":"#8C8C8C","font":"Liberation Sans"},
"axisX":{"offset":-22,"labelPadding":4,"domain":false,"ticks":false,"labelAngle":0,"labelColor":"#8C8C8C","labelFontSize":10,"labelFont":"Liberation Sans","grid":false},
"axisY":{"labels":false,"ticks":false,"domain":false,"grid":true,"gridColor":"#D9D9D9","gridWidth":1},
"title":{"anchor":"start","font":"Open Sans","fontSize":14,"fontWeight":"bold","color":"#2F5F98","offset":-24,"dx":6,"frame":"group"}
}
}
